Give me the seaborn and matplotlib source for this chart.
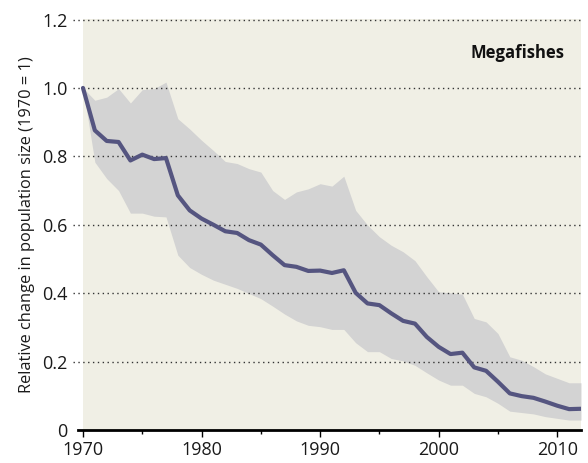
import numpy as np
import pandas as pd
import matplotlib
matplotlib.use("Agg")
import matplotlib.pyplot as plt
import seaborn as sns
from matplotlib.ticker import MultipleLocator

# values
years = list(range(1970, 2013))
index_mean = [1.0, 0.876, 0.845, 0.842, 0.788, 0.805, 0.792, 0.795, 0.686, 0.642,
              0.618, 0.600, 0.581, 0.576, 0.555, 0.542, 0.511, 0.482, 0.477, 0.465,
              0.466, 0.459, 0.467, 0.401, 0.370, 0.365, 0.341, 0.319, 0.311, 0.272,
              0.243, 0.222, 0.226, 0.183, 0.173, 0.141, 0.107, 0.099, 0.094, 0.083,
              0.071, 0.061, 0.062]
index_upper = [1.0, 0.964, 0.973, 0.998, 0.956, 0.995, 0.998, 1.017, 0.910, 0.880,
               0.847, 0.817, 0.785, 0.779, 0.764, 0.754, 0.700, 0.674, 0.696, 0.705,
               0.720, 0.713, 0.742, 0.642, 0.599, 0.565, 0.540, 0.521, 0.495, 0.448,
               0.404, 0.401, 0.397, 0.326, 0.316, 0.282, 0.214, 0.204, 0.185, 0.164,
               0.151, 0.138, 0.138]
index_lower = [1.0, 0.783, 0.735, 0.700, 0.634, 0.634, 0.625, 0.623, 0.511, 0.475,
               0.455, 0.438, 0.426, 0.414, 0.399, 0.384, 0.362, 0.339, 0.319, 0.306,
               0.302, 0.294, 0.294, 0.255, 0.229, 0.229, 0.209, 0.202, 0.189, 0.167,
               0.146, 0.131, 0.131, 0.107, 0.097, 0.078, 0.055, 0.051, 0.047, 0.039,
               0.034, 0.029, 0.029]
ytick_vals = [0, 0.2, 0.4, 0.6, 0.8, 1.0, 1.2]
ytick_labels = ["0", "0.2", "0.4", "0.6", "0.8", "1.0", "1.2"]
xtick_vals = [1970, 1980, 1990, 2000, 2010]

df = pd.DataFrame({"year": years, "mean": index_mean,
                   "upper": index_upper, "lower": index_lower})

sns.set_theme(style="white")
plt.rcParams["font.family"] = ["Open Sans", "DejaVu Sans"]

fig = plt.figure(figsize=(5.88, 4.63), dpi=100)
ax = fig.add_axes([0.124, 0.0713, 0.864, 0.888])

# beige panel only over the data range, dotted grid runs a bit further left
ax.axvspan(1970, 2012, color="#f0efe5", zorder=0, lw=0)
ax.fill_between(df["year"], df["lower"], df["upper"], color="#d3d3d3", lw=0, zorder=1)
sns.lineplot(data=df, x="year", y="mean", color="#555580", lw=3, ax=ax, zorder=3)

ax.set_xlim(1969.15, 2012)
ax.set_ylim(0, 1.202)
ax.set_yticks(ytick_vals)
ax.set_yticklabels(ytick_labels)
ax.set_xticks(xtick_vals)
ax.xaxis.set_minor_locator(MultipleLocator(5))

for y in ytick_vals[1:]:
    ax.axhline(y, color="#333333", ls=(0, (1, 2.5)), lw=1, zorder=2)

for s in ["top", "right", "left"]:
    ax.spines[s].set_visible(False)
ax.spines["bottom"].set_color("black")
ax.spines["bottom"].set_linewidth(2)
ax.spines["bottom"].set_bounds(1969.6, 2012)
ax.spines["bottom"].set_zorder(4)

ax.tick_params(axis="y", length=0, pad=4, labelsize=13, colors="#1a1a1a")
ax.tick_params(axis="x", which="major", direction="out", length=5, width=1,
               color="black", labelsize=13, labelcolor="#1a1a1a", pad=3, bottom=True)
ax.tick_params(axis="x", which="minor", direction="out", length=3, width=1,
               color="black", bottom=True)

ax.set_xlabel("")
ax.set_ylabel("Relative change in population size (1970 = 1)", fontsize=11.8,
              color="#1a1a1a", labelpad=5)

ax.text(0.967, 0.917, "Megafishes", transform=ax.transAxes, ha="right", va="center",
        fontsize=12, fontweight="bold", color="#111111")

fig.savefig("out.png", dpi=100)
